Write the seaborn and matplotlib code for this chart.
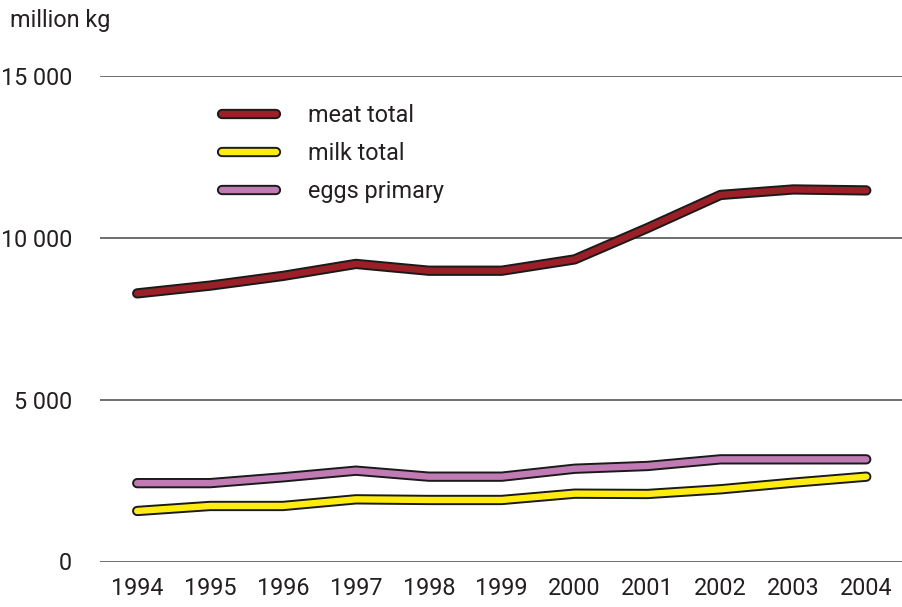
import matplotlib
matplotlib.use("Agg")
import matplotlib.pyplot as plt
import matplotlib.patheffects as pe
from matplotlib.ticker import FuncFormatter
import pandas as pd
import seaborn as sns

years = [1994, 1995, 1996, 1997, 1998, 1999, 2000, 2001, 2002, 2003, 2004]
meat_total = [8280, 8520, 8820, 9190, 8980, 8980, 9330, 10300, 11320, 11490, 11460]
milk_total = [1560, 1715, 1715, 1920, 1900, 1900, 2095, 2085, 2230, 2435, 2620]
eggs_primary = [2420, 2420, 2600, 2805, 2620, 2620, 2865, 2950, 3155, 3155, 3155]
series_names = ["meat total", "milk total", "eggs primary"]
series_colors = ["#9B1F27", "#FFEC0F", "#C17BB4"]
y_ticks = [0, 5000, 10000, 15000]

df = pd.DataFrame({
    "year": years * 3,
    "value": meat_total + milk_total + eggs_primary,
    "series": [n for n in series_names for _ in years],
})

sns.set_theme(style="white")
plt.rcParams["font.family"] = ["Roboto", "DejaVu Sans"]
text_color = "#231F20"
fs = 16.8

W, H = 902, 607
fig = plt.figure(figsize=(W / 100, H / 100), dpi=100)
ax = fig.add_axes([100 / W, (H - 561.5) / H, 802 / W, 485.7 / H])

sns.lineplot(data=df, x="year", y="value", hue="series", hue_order=series_names,
             palette=dict(zip(series_names, series_colors)), ax=ax,
             linewidth=4.6, solid_capstyle="round", solid_joinstyle="round",
             legend=False)

outline = [pe.Stroke(linewidth=7.4, foreground="#1a1a1a"), pe.Normal()]
for line in ax.lines:
    line.set_path_effects(outline)
    line.set_clip_on(False)

ax.set_xlim(1993.49, 2004.49)
ax.set_ylim(0, 15000)
ax.set_yticks(y_ticks)
ax.set_xticks(years)
ax.yaxis.set_major_formatter(FuncFormatter(lambda v, p: f"{int(v):,}".replace(",", " ")))
ax.set_xlabel("")
ax.set_ylabel("")
for s in ax.spines.values():
    s.set_visible(False)
ax.grid(axis="y", color="#555555", linewidth=1.2)
ax.grid(axis="x", visible=False)
ax.set_axisbelow(True)
ax.tick_params(axis="both", length=0, labelsize=fs, labelcolor=text_color)
ax.tick_params(axis="y", pad=20)
ax.tick_params(axis="x", pad=11)

handles = []
for name, col in zip(series_names, series_colors):
    h, = ax.plot([], [], color=col, linewidth=4.6, solid_capstyle="round", label=name)
    h.set_path_effects(outline)
    handles.append(h)
leg = ax.legend(handles=handles, loc="upper left", frameon=False,
                bbox_to_anchor=(222 / W, 1 - 104 / H), bbox_transform=fig.transFigure,
                fontsize=fs, handlelength=2.3, handletextpad=1.4,
                labelspacing=0.65, borderpad=0, borderaxespad=0)
for t in leg.get_texts():
    t.set_color(text_color)

fig.text(10 / W, 1 - 20 / H, "million kg", fontsize=fs, color=text_color,
         ha="left", va="center")

fig.savefig("out.png", dpi=100, facecolor="white")
